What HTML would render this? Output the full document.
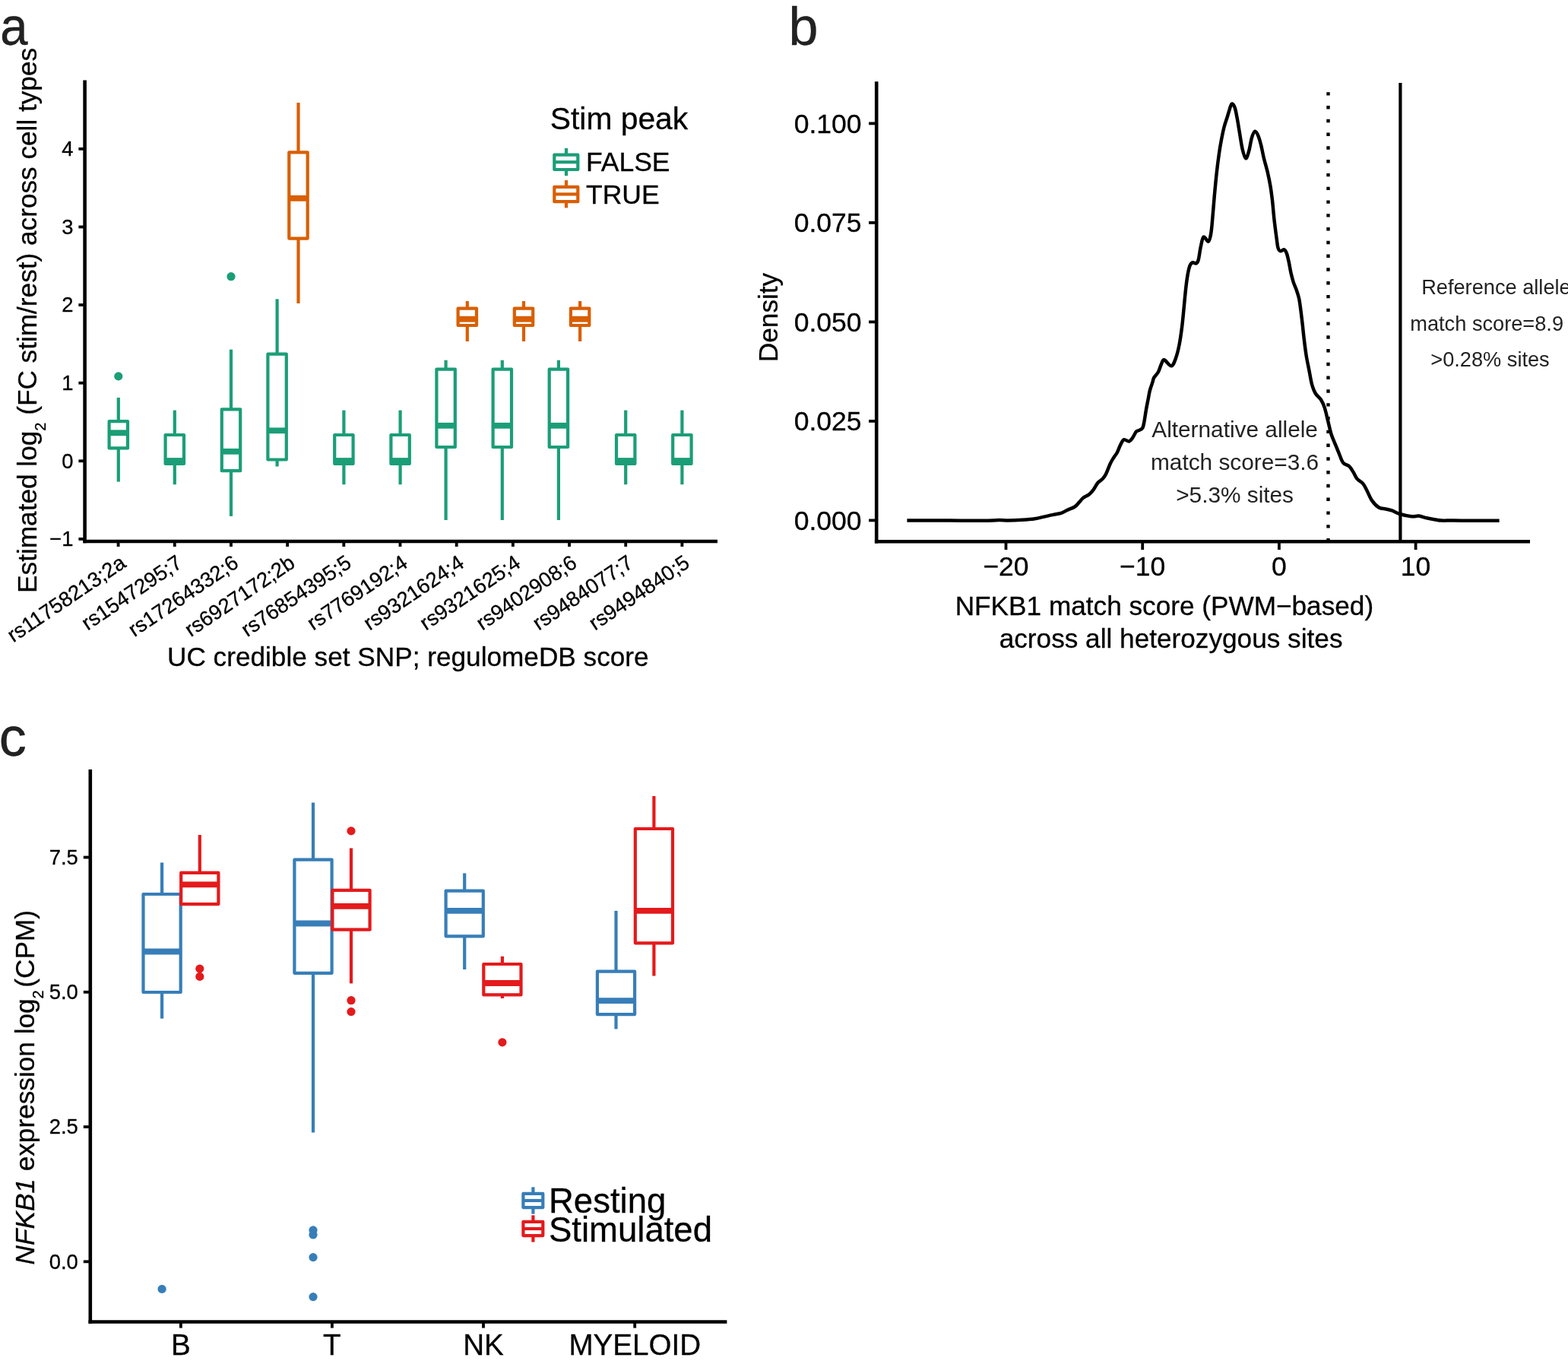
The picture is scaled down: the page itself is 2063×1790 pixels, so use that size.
<!DOCTYPE html>
<html><head><meta charset="utf-8"><title>Figure</title>
<style>html,body{margin:0;padding:0;background:#fff;}svg{display:block;}svg text{stroke:#000;stroke-width:0.3px;}</style>
</head><body>
<svg width="2063" height="1790" viewBox="0 0 2063 1790" font-family="'Liberation Sans', Arial, Helvetica, sans-serif" fill="#000">
<rect width="2063" height="1790" fill="#fff"/>
<text transform="translate(0.3,59) scale(0.92,1)" font-size="71" fill="#222">a</text>
<line x1="111.6" y1="105.6" x2="111.6" y2="714.3" stroke="#000" stroke-width="4.6"/>
<line x1="109.3" y1="712" x2="944" y2="712" stroke="#000" stroke-width="4.6"/>
<line x1="103.4" y1="708.92" x2="111.6" y2="708.92" stroke="#000" stroke-width="3.8"/>
<text x="96.5" y="718.35" font-size="27.4" text-anchor="end">−1</text>
<line x1="103.4" y1="606.3" x2="111.6" y2="606.3" stroke="#000" stroke-width="3.8"/>
<text x="96.5" y="615.73" font-size="27.4" text-anchor="end">0</text>
<line x1="103.4" y1="503.68" x2="111.6" y2="503.68" stroke="#000" stroke-width="3.8"/>
<text x="96.5" y="513.11" font-size="27.4" text-anchor="end">1</text>
<line x1="103.4" y1="401.06" x2="111.6" y2="401.06" stroke="#000" stroke-width="3.8"/>
<text x="96.5" y="410.49" font-size="27.4" text-anchor="end">2</text>
<line x1="103.4" y1="298.44" x2="111.6" y2="298.44" stroke="#000" stroke-width="3.8"/>
<text x="96.5" y="307.87" font-size="27.4" text-anchor="end">3</text>
<line x1="103.4" y1="195.82" x2="111.6" y2="195.82" stroke="#000" stroke-width="3.8"/>
<text x="96.5" y="205.25" font-size="27.4" text-anchor="end">4</text>
<line x1="155.6" y1="712" x2="155.6" y2="719" stroke="#000" stroke-width="3.8"/>
<text transform="translate(156.6,728.6) rotate(-34)" x="0" y="19.18" font-size="27.4" text-anchor="end">rs11758213;2a</text>
<line x1="229.78" y1="712" x2="229.78" y2="719" stroke="#000" stroke-width="3.8"/>
<text transform="translate(230.78,728.6) rotate(-34)" x="0" y="19.18" font-size="27.4" text-anchor="end">rs1547295;7</text>
<line x1="303.96" y1="712" x2="303.96" y2="719" stroke="#000" stroke-width="3.8"/>
<text transform="translate(304.96,728.6) rotate(-34)" x="0" y="19.18" font-size="27.4" text-anchor="end">rs17264332;6</text>
<line x1="378.14" y1="712" x2="378.14" y2="719" stroke="#000" stroke-width="3.8"/>
<text transform="translate(379.14,728.6) rotate(-34)" x="0" y="19.18" font-size="27.4" text-anchor="end">rs6927172;2b</text>
<line x1="452.32" y1="712" x2="452.32" y2="719" stroke="#000" stroke-width="3.8"/>
<text transform="translate(453.32,728.6) rotate(-34)" x="0" y="19.18" font-size="27.4" text-anchor="end">rs76854395;5</text>
<line x1="526.5" y1="712" x2="526.5" y2="719" stroke="#000" stroke-width="3.8"/>
<text transform="translate(527.5,728.6) rotate(-34)" x="0" y="19.18" font-size="27.4" text-anchor="end">rs7769192;4</text>
<line x1="600.68" y1="712" x2="600.68" y2="719" stroke="#000" stroke-width="3.8"/>
<text transform="translate(601.68,728.6) rotate(-34)" x="0" y="19.18" font-size="27.4" text-anchor="end">rs9321624;4</text>
<line x1="674.86" y1="712" x2="674.86" y2="719" stroke="#000" stroke-width="3.8"/>
<text transform="translate(675.86,728.6) rotate(-34)" x="0" y="19.18" font-size="27.4" text-anchor="end">rs9321625;4</text>
<line x1="749.04" y1="712" x2="749.04" y2="719" stroke="#000" stroke-width="3.8"/>
<text transform="translate(750.04,728.6) rotate(-34)" x="0" y="19.18" font-size="27.4" text-anchor="end">rs9402908;6</text>
<line x1="823.22" y1="712" x2="823.22" y2="719" stroke="#000" stroke-width="3.8"/>
<text transform="translate(824.22,728.6) rotate(-34)" x="0" y="19.18" font-size="27.4" text-anchor="end">rs9484077;7</text>
<line x1="897.4" y1="712" x2="897.4" y2="719" stroke="#000" stroke-width="3.8"/>
<text transform="translate(898.4,728.6) rotate(-34)" x="0" y="19.18" font-size="27.4" text-anchor="end">rs9494840;5</text>
<text transform="translate(48.2,421.4) rotate(-90)" x="0" y="0" font-size="35.2" text-anchor="middle">Estimated log<tspan font-size="20" dy="12">2</tspan><tspan dy="-12"> (FC stim/rest) across cell types</tspan></text>
<text x="220" y="876.3" font-size="35.2" text-anchor="start">UC credible set SNP; regulomeDB score</text>
<line x1="155.8" y1="523" x2="155.8" y2="554.2" stroke="#1B9E77" stroke-width="4.2"/>
<line x1="155.8" y1="589.4" x2="155.8" y2="633.6" stroke="#1B9E77" stroke-width="4.2"/>
<rect x="143.6" y="554.2" width="24.4" height="35.2" fill="none" stroke="#1B9E77" stroke-width="4.2" stroke-linejoin="round"/>
<line x1="143.6" y1="569.3" x2="168" y2="569.3" stroke="#1B9E77" stroke-width="7.8"/>
<circle cx="155.8" cy="494.9" r="5.6" fill="#1B9E77"/>
<line x1="229.8" y1="539.6" x2="229.8" y2="572" stroke="#1B9E77" stroke-width="4.2"/>
<line x1="229.8" y1="610" x2="229.8" y2="637.2" stroke="#1B9E77" stroke-width="4.2"/>
<rect x="217.6" y="572" width="24.4" height="38" fill="none" stroke="#1B9E77" stroke-width="4.2" stroke-linejoin="round"/>
<line x1="217.6" y1="606" x2="242" y2="606" stroke="#1B9E77" stroke-width="7.8"/>
<line x1="304" y1="459.7" x2="304" y2="538.3" stroke="#1B9E77" stroke-width="4.2"/>
<line x1="304" y1="619.2" x2="304" y2="678.9" stroke="#1B9E77" stroke-width="4.2"/>
<rect x="291.8" y="538.3" width="24.4" height="80.9" fill="none" stroke="#1B9E77" stroke-width="4.2" stroke-linejoin="round"/>
<line x1="291.8" y1="593.8" x2="316.2" y2="593.8" stroke="#1B9E77" stroke-width="7.8"/>
<circle cx="304" cy="363.7" r="5.6" fill="#1B9E77"/>
<line x1="364.6" y1="393.3" x2="364.6" y2="465.7" stroke="#1B9E77" stroke-width="4.2"/>
<line x1="364.6" y1="604.5" x2="364.6" y2="613.5" stroke="#1B9E77" stroke-width="4.2"/>
<rect x="352.4" y="465.7" width="24.4" height="138.8" fill="none" stroke="#1B9E77" stroke-width="4.2" stroke-linejoin="round"/>
<line x1="352.4" y1="566.3" x2="376.8" y2="566.3" stroke="#1B9E77" stroke-width="7.8"/>
<line x1="392.5" y1="135.1" x2="392.5" y2="200.4" stroke="#D95F02" stroke-width="4.2"/>
<line x1="392.5" y1="313.6" x2="392.5" y2="399" stroke="#D95F02" stroke-width="4.2"/>
<rect x="380.3" y="200.4" width="24.4" height="113.2" fill="none" stroke="#D95F02" stroke-width="4.2" stroke-linejoin="round"/>
<line x1="380.3" y1="260.8" x2="404.7" y2="260.8" stroke="#D95F02" stroke-width="7.8"/>
<line x1="452.4" y1="539.6" x2="452.4" y2="572" stroke="#1B9E77" stroke-width="4.2"/>
<line x1="452.4" y1="610" x2="452.4" y2="637.2" stroke="#1B9E77" stroke-width="4.2"/>
<rect x="440.2" y="572" width="24.4" height="38" fill="none" stroke="#1B9E77" stroke-width="4.2" stroke-linejoin="round"/>
<line x1="440.2" y1="606" x2="464.6" y2="606" stroke="#1B9E77" stroke-width="7.8"/>
<line x1="526.6" y1="539.6" x2="526.6" y2="572" stroke="#1B9E77" stroke-width="4.2"/>
<line x1="526.6" y1="610" x2="526.6" y2="637.2" stroke="#1B9E77" stroke-width="4.2"/>
<rect x="514.4" y="572" width="24.4" height="38" fill="none" stroke="#1B9E77" stroke-width="4.2" stroke-linejoin="round"/>
<line x1="514.4" y1="606" x2="538.8" y2="606" stroke="#1B9E77" stroke-width="7.8"/>
<line x1="586.6" y1="473.7" x2="586.6" y2="485.6" stroke="#1B9E77" stroke-width="4.2"/>
<line x1="586.6" y1="588" x2="586.6" y2="684" stroke="#1B9E77" stroke-width="4.2"/>
<rect x="574.4" y="485.6" width="24.4" height="102.4" fill="none" stroke="#1B9E77" stroke-width="4.2" stroke-linejoin="round"/>
<line x1="574.4" y1="559.8" x2="598.8" y2="559.8" stroke="#1B9E77" stroke-width="7.8"/>
<line x1="614.8" y1="396" x2="614.8" y2="405.6" stroke="#D95F02" stroke-width="4.2"/>
<line x1="614.8" y1="428" x2="614.8" y2="449" stroke="#D95F02" stroke-width="4.2"/>
<rect x="602.6" y="405.6" width="24.4" height="22.4" fill="none" stroke="#D95F02" stroke-width="4.2" stroke-linejoin="round"/>
<line x1="602.6" y1="419.7" x2="627" y2="419.7" stroke="#D95F02" stroke-width="7.8"/>
<line x1="660.8" y1="473.7" x2="660.8" y2="485.6" stroke="#1B9E77" stroke-width="4.2"/>
<line x1="660.8" y1="588" x2="660.8" y2="684" stroke="#1B9E77" stroke-width="4.2"/>
<rect x="648.6" y="485.6" width="24.4" height="102.4" fill="none" stroke="#1B9E77" stroke-width="4.2" stroke-linejoin="round"/>
<line x1="648.6" y1="559.8" x2="673" y2="559.8" stroke="#1B9E77" stroke-width="7.8"/>
<line x1="689" y1="396" x2="689" y2="405.6" stroke="#D95F02" stroke-width="4.2"/>
<line x1="689" y1="428" x2="689" y2="449" stroke="#D95F02" stroke-width="4.2"/>
<rect x="676.8" y="405.6" width="24.4" height="22.4" fill="none" stroke="#D95F02" stroke-width="4.2" stroke-linejoin="round"/>
<line x1="676.8" y1="419.7" x2="701.2" y2="419.7" stroke="#D95F02" stroke-width="7.8"/>
<line x1="734.9" y1="473.7" x2="734.9" y2="485.6" stroke="#1B9E77" stroke-width="4.2"/>
<line x1="734.9" y1="588" x2="734.9" y2="684" stroke="#1B9E77" stroke-width="4.2"/>
<rect x="722.7" y="485.6" width="24.4" height="102.4" fill="none" stroke="#1B9E77" stroke-width="4.2" stroke-linejoin="round"/>
<line x1="722.7" y1="559.8" x2="747.1" y2="559.8" stroke="#1B9E77" stroke-width="7.8"/>
<line x1="763.1" y1="396" x2="763.1" y2="405.6" stroke="#D95F02" stroke-width="4.2"/>
<line x1="763.1" y1="428" x2="763.1" y2="449" stroke="#D95F02" stroke-width="4.2"/>
<rect x="750.9" y="405.6" width="24.4" height="22.4" fill="none" stroke="#D95F02" stroke-width="4.2" stroke-linejoin="round"/>
<line x1="750.9" y1="419.7" x2="775.3" y2="419.7" stroke="#D95F02" stroke-width="7.8"/>
<line x1="823.2" y1="539.6" x2="823.2" y2="572" stroke="#1B9E77" stroke-width="4.2"/>
<line x1="823.2" y1="610" x2="823.2" y2="637.2" stroke="#1B9E77" stroke-width="4.2"/>
<rect x="811" y="572" width="24.4" height="38" fill="none" stroke="#1B9E77" stroke-width="4.2" stroke-linejoin="round"/>
<line x1="811" y1="606" x2="835.4" y2="606" stroke="#1B9E77" stroke-width="7.8"/>
<line x1="897.4" y1="539.6" x2="897.4" y2="572" stroke="#1B9E77" stroke-width="4.2"/>
<line x1="897.4" y1="610" x2="897.4" y2="637.2" stroke="#1B9E77" stroke-width="4.2"/>
<rect x="885.2" y="572" width="24.4" height="38" fill="none" stroke="#1B9E77" stroke-width="4.2" stroke-linejoin="round"/>
<line x1="885.2" y1="606" x2="909.6" y2="606" stroke="#1B9E77" stroke-width="7.8"/>
<text x="723.8" y="170.2" font-size="40.8" text-anchor="start">Stim peak</text>
<line x1="745" y1="194.9" x2="745" y2="231.2" stroke="#1B9E77" stroke-width="4.2"/>
<rect x="729.3" y="203.6" width="31" height="19.4" fill="#fff" stroke="#1B9E77" stroke-width="4.2" stroke-linejoin="round"/>
<line x1="729.1" y1="213.2" x2="760.9" y2="213.2" stroke="#1B9E77" stroke-width="4.2"/>
<text x="771" y="225.4" font-size="35.5" text-anchor="start">FALSE</text>
<line x1="745" y1="237.1" x2="745" y2="273.4" stroke="#D95F02" stroke-width="4.2"/>
<rect x="729.3" y="245.8" width="31" height="19.4" fill="#fff" stroke="#D95F02" stroke-width="4.2" stroke-linejoin="round"/>
<line x1="729.1" y1="255.4" x2="760.9" y2="255.4" stroke="#D95F02" stroke-width="4.2"/>
<text x="771" y="267.6" font-size="35.5" text-anchor="start">TRUE</text>
<text x="1037.4" y="59.1" font-size="70" text-anchor="start" fill="#222">b</text>
<line x1="1153.2" y1="107.3" x2="1153.2" y2="714.5" stroke="#000" stroke-width="4.6"/>
<line x1="1150.9" y1="712.2" x2="2013" y2="712.2" stroke="#000" stroke-width="4.6"/>
<line x1="1143.1" y1="684.4" x2="1153.2" y2="684.4" stroke="#000" stroke-width="3.8"/>
<text x="1133.5" y="696.61" font-size="35.5" text-anchor="end">0.000</text>
<line x1="1143.1" y1="553.9" x2="1153.2" y2="553.9" stroke="#000" stroke-width="3.8"/>
<text x="1133.5" y="566.11" font-size="35.5" text-anchor="end">0.025</text>
<line x1="1143.1" y1="423.4" x2="1153.2" y2="423.4" stroke="#000" stroke-width="3.8"/>
<text x="1133.5" y="435.61" font-size="35.5" text-anchor="end">0.050</text>
<line x1="1143.1" y1="292.9" x2="1153.2" y2="292.9" stroke="#000" stroke-width="3.8"/>
<text x="1133.5" y="305.11" font-size="35.5" text-anchor="end">0.075</text>
<line x1="1143.1" y1="162.4" x2="1153.2" y2="162.4" stroke="#000" stroke-width="3.8"/>
<text x="1133.5" y="174.61" font-size="35.5" text-anchor="end">0.100</text>
<line x1="1323.5" y1="712.2" x2="1323.5" y2="723.1" stroke="#000" stroke-width="3.8"/>
<text x="1323.5" y="757.3" font-size="35.5" text-anchor="middle">−20</text>
<line x1="1503.2" y1="712.2" x2="1503.2" y2="723.1" stroke="#000" stroke-width="3.8"/>
<text x="1503.2" y="757.3" font-size="35.5" text-anchor="middle">−10</text>
<line x1="1682.9" y1="712.2" x2="1682.9" y2="723.1" stroke="#000" stroke-width="3.8"/>
<text x="1682.9" y="757.3" font-size="35.5" text-anchor="middle">0</text>
<line x1="1862.6" y1="712.2" x2="1862.6" y2="723.1" stroke="#000" stroke-width="3.8"/>
<text x="1862.6" y="757.3" font-size="35.5" text-anchor="middle">10</text>
<text transform="translate(1022.6,417.5) rotate(-90)" x="0" y="0" font-size="35.2" text-anchor="middle">Density</text>
<text x="1256.7" y="808.7" font-size="35.2" text-anchor="start">NFKB1 match score (PWM−based)</text>
<text x="1314.7" y="852.3" font-size="35.2" text-anchor="start">across all heterozygous sites</text>
<line x1="1842.4" y1="108.9" x2="1842.4" y2="712.2" stroke="#000" stroke-width="4.2"/>
<path d="M1745.3 121.2h4.4v4.4h-4.4z M1745.3 138.98h4.4v4.4h-4.4z M1745.3 156.76h4.4v4.4h-4.4z M1745.3 174.54h4.4v4.4h-4.4z M1745.3 192.32h4.4v4.4h-4.4z M1745.3 210.1h4.4v4.4h-4.4z M1745.3 227.88h4.4v4.4h-4.4z M1745.3 245.66h4.4v4.4h-4.4z M1745.3 263.44h4.4v4.4h-4.4z M1745.3 281.22h4.4v4.4h-4.4z M1745.3 299h4.4v4.4h-4.4z M1745.3 316.78h4.4v4.4h-4.4z M1745.3 334.56h4.4v4.4h-4.4z M1745.3 352.34h4.4v4.4h-4.4z M1745.3 370.12h4.4v4.4h-4.4z M1745.3 387.9h4.4v4.4h-4.4z M1745.3 405.68h4.4v4.4h-4.4z M1745.3 423.46h4.4v4.4h-4.4z M1745.3 441.24h4.4v4.4h-4.4z M1745.3 459.02h4.4v4.4h-4.4z M1745.3 476.8h4.4v4.4h-4.4z M1745.3 494.58h4.4v4.4h-4.4z M1745.3 512.36h4.4v4.4h-4.4z M1745.3 530.14h4.4v4.4h-4.4z M1745.3 547.92h4.4v4.4h-4.4z M1745.3 565.7h4.4v4.4h-4.4z M1745.3 583.48h4.4v4.4h-4.4z M1745.3 601.26h4.4v4.4h-4.4z M1745.3 619.04h4.4v4.4h-4.4z M1745.3 636.82h4.4v4.4h-4.4z M1745.3 654.6h4.4v4.4h-4.4z M1745.3 672.38h4.4v4.4h-4.4z M1745.3 690.16h4.4v4.4h-4.4z M1745.3 707.94h4.4v4.4h-4.4z" fill="#000"/>
<path d="M1193.4 684.6 C1202.83 684.6 1232.23 684.57 1250 684.6 C1267.77 684.63 1289.25 684.88 1300 684.8 C1310.75 684.72 1310.03 684.13 1314.5 684.1 C1318.97 684.07 1321.77 684.65 1326.8 684.6 C1331.83 684.55 1338.92 684.2 1344.7 683.8 C1350.48 683.4 1356.85 682.85 1361.5 682.2 C1366.15 681.55 1368.7 680.75 1372.6 679.9 C1376.5 679.05 1380.98 677.93 1384.9 677.1 C1388.82 676.27 1392.93 675.92 1396.1 674.9 C1399.27 673.88 1400.92 672.4 1403.9 671 C1406.88 669.6 1411.38 668.18 1414 666.5 C1416.62 664.82 1417.73 662.85 1419.6 660.9 C1421.47 658.95 1422.97 656.57 1425.2 654.8 C1427.43 653.03 1430.77 652.07 1433 650.3 C1435.23 648.53 1436.73 646.72 1438.6 644.2 C1440.47 641.68 1442.15 637.63 1444.2 635.2 C1446.25 632.77 1449.05 631.65 1450.9 629.6 C1452.75 627.55 1453.63 626.25 1455.3 622.9 C1456.97 619.55 1459.22 613.03 1460.9 609.5 C1462.58 605.97 1463.9 604.12 1465.4 601.7 C1466.9 599.28 1468.42 597.8 1469.9 595 C1471.38 592.2 1472.82 587.7 1474.3 584.9 C1475.78 582.1 1476.93 578.93 1478.8 578.2 C1480.67 577.47 1483.63 580.87 1485.5 580.5 C1487.37 580.13 1488.42 578.15 1490 576 C1491.58 573.85 1493.52 569.28 1495 567.6 C1496.48 565.92 1497.5 566.73 1498.9 565.9 C1500.3 565.07 1502.28 564.65 1503.4 562.6 C1504.52 560.55 1504.85 557.52 1505.6 553.6 C1506.35 549.68 1507.05 543.93 1507.9 539.1 C1508.75 534.27 1509.87 528.88 1510.7 524.6 C1511.53 520.32 1511.98 516.93 1512.9 513.4 C1513.82 509.87 1515.3 506.18 1516.2 503.4 C1517.1 500.62 1517.02 499.05 1518.3 496.7 C1519.58 494.35 1522.25 492.38 1523.9 489.3 C1525.55 486.22 1526.88 480.87 1528.2 478.2 C1529.52 475.53 1529.65 472.78 1531.8 473.3 C1533.95 473.82 1538.63 481.5 1541.1 481.3 C1543.57 481.1 1544.87 476.72 1546.6 472.1 C1548.33 467.48 1550.07 460.77 1551.5 453.6 C1552.93 446.43 1554.17 437.28 1555.2 429.1 C1556.23 420.92 1556.88 412.7 1557.7 404.5 C1558.52 396.3 1559.28 387.07 1560.1 379.9 C1560.92 372.73 1561.68 366.62 1562.6 361.5 C1563.52 356.38 1564.48 351.92 1565.6 349.2 C1566.72 346.48 1567.97 345.65 1569.3 345.2 C1570.63 344.75 1572.37 347.07 1573.6 346.5 C1574.83 345.93 1575.67 345.45 1576.7 341.8 C1577.73 338.15 1578.67 329.62 1579.8 324.6 C1580.93 319.58 1581.83 312.85 1583.5 311.7 C1585.17 310.55 1588.23 318.15 1589.8 317.7 C1591.37 317.25 1592.08 312.88 1592.9 309 C1593.72 305.12 1593.88 302.98 1594.7 294.4 C1595.52 285.82 1596.78 268.77 1597.8 257.5 C1598.82 246.23 1599.78 236.02 1600.8 226.8 C1601.82 217.58 1602.87 209.38 1603.9 202.2 C1604.93 195.02 1605.87 189.65 1607 183.7 C1608.13 177.75 1609.37 171.62 1610.7 166.5 C1612.03 161.38 1613.67 157.3 1615 153 C1616.33 148.7 1617.68 143.47 1618.7 140.7 C1619.72 137.93 1620.08 136.18 1621.1 136.4 C1622.12 136.62 1623.67 138.62 1624.8 142 C1625.93 145.38 1626.87 151.18 1627.9 156.7 C1628.93 162.22 1629.88 168.55 1631 175.1 C1632.12 181.65 1633.27 190.47 1634.6 196 C1635.93 201.53 1637.57 207.88 1639 208.3 C1640.43 208.72 1641.88 203 1643.2 198.5 C1644.52 194 1645.57 185.6 1646.9 181.3 C1648.23 177 1649.77 173.12 1651.2 172.7 C1652.63 172.28 1654.17 175.73 1655.5 178.8 C1656.83 181.87 1657.97 186.18 1659.2 191.1 C1660.43 196.02 1661.47 202.35 1662.9 208.3 C1664.33 214.25 1666.37 220.65 1667.8 226.8 C1669.23 232.95 1670.47 239.07 1671.5 245.2 C1672.53 251.33 1673.18 256.43 1674 263.6 C1674.82 270.77 1675.48 280 1676.4 288.2 C1677.32 296.4 1678.65 306.5 1679.5 312.8 C1680.35 319.1 1680.67 323.1 1681.5 326 C1682.33 328.9 1683.15 329.8 1684.5 330.2 C1685.85 330.6 1688.2 327.87 1689.6 328.4 C1691 328.93 1691.88 330.7 1692.9 333.4 C1693.92 336.1 1694.77 340.32 1695.7 344.6 C1696.63 348.88 1697.48 354.63 1698.5 359.1 C1699.52 363.57 1700.58 367.67 1701.8 371.4 C1703.02 375.13 1704.58 377.97 1705.8 381.5 C1707.02 385.03 1708.18 388.32 1709.1 392.6 C1710.02 396.88 1710.55 401.62 1711.3 407.2 C1712.05 412.78 1712.85 419.58 1713.6 426.1 C1714.35 432.62 1714.97 439.4 1715.8 446.3 C1716.63 453.2 1717.48 460.62 1718.6 467.5 C1719.72 474.38 1721.28 481.35 1722.5 487.6 C1723.72 493.85 1724.57 500.1 1725.9 505 C1727.23 509.9 1728.43 513.47 1730.5 517 C1732.57 520.53 1736.23 522.93 1738.3 526.2 C1740.37 529.47 1741.37 531.8 1742.9 536.6 C1744.43 541.4 1746.08 549.32 1747.5 555 C1748.92 560.68 1749.88 565.9 1751.4 570.7 C1752.92 575.5 1754.85 579.45 1756.6 583.8 C1758.35 588.15 1760.15 592.67 1761.9 596.8 C1763.65 600.93 1764.92 605.87 1767.1 608.6 C1769.28 611.33 1772.82 611.23 1775 613.2 C1777.18 615.17 1778.47 617.67 1780.2 620.4 C1781.93 623.13 1783.22 626.98 1785.4 629.6 C1787.58 632.22 1791.12 633.48 1793.3 636.1 C1795.48 638.72 1796.53 641.58 1798.5 645.3 C1800.47 649.02 1802.48 654.7 1805.1 658.4 C1807.72 662.1 1811.15 665.65 1814.2 667.5 C1817.25 669.35 1820.57 668.85 1823.4 669.5 C1826.23 670.15 1828.15 670.32 1831.2 671.4 C1834.25 672.48 1837.33 674.68 1841.7 676 C1846.07 677.32 1853.25 678.87 1857.4 679.3 C1861.55 679.73 1863.33 678.27 1866.6 678.6 C1869.87 678.93 1873.52 680.53 1877 681.3 C1880.48 682.07 1884.22 682.65 1887.5 683.2 C1890.78 683.75 1892.98 684.38 1896.7 684.6 C1900.42 684.82 1905.43 684.48 1909.8 684.5 C1914.17 684.52 1912.43 684.67 1922.9 684.7 C1933.37 684.73 1964.32 684.7 1972.6 684.7" fill="none" stroke="#000" stroke-width="4.5" stroke-linejoin="round"/>
<text x="1624.6" y="575.1" font-size="29.8" text-anchor="middle" fill="#222" style="stroke:none">Alternative allele</text>
<text x="1624.6" y="618" font-size="29.8" text-anchor="middle" fill="#222" style="stroke:none">match score=3.6</text>
<text x="1624.6" y="660.9" font-size="29.8" text-anchor="middle" fill="#222" style="stroke:none">&gt;5.3% sites</text>
<text x="1870.2" y="387.3" font-size="27.2" text-anchor="start" fill="#222" style="stroke:none">Reference allele</text>
<text x="1855.3" y="434.7" font-size="27.2" text-anchor="start" fill="#222" style="stroke:none">match score=8.9</text>
<text x="1882.3" y="481.6" font-size="27.2" text-anchor="start" fill="#222" style="stroke:none">&gt;0.28% sites</text>
<text x="-1.2" y="993.6" font-size="72" text-anchor="start" fill="#222">c</text>
<line x1="118.8" y1="1012" x2="118.8" y2="1740.8" stroke="#000" stroke-width="4.6"/>
<line x1="116.5" y1="1738.5" x2="956.4" y2="1738.5" stroke="#000" stroke-width="4.6"/>
<line x1="109.8" y1="1659.3" x2="118.8" y2="1659.3" stroke="#000" stroke-width="3.8"/>
<text x="102.8" y="1668.73" font-size="27.4" text-anchor="end">0.0</text>
<line x1="109.8" y1="1482.05" x2="118.8" y2="1482.05" stroke="#000" stroke-width="3.8"/>
<text x="102.8" y="1491.48" font-size="27.4" text-anchor="end">2.5</text>
<line x1="109.8" y1="1304.8" x2="118.8" y2="1304.8" stroke="#000" stroke-width="3.8"/>
<text x="102.8" y="1314.23" font-size="27.4" text-anchor="end">5.0</text>
<line x1="109.8" y1="1127.55" x2="118.8" y2="1127.55" stroke="#000" stroke-width="3.8"/>
<text x="102.8" y="1136.98" font-size="27.4" text-anchor="end">7.5</text>
<line x1="237.9" y1="1738.5" x2="237.9" y2="1746.6" stroke="#000" stroke-width="3.8"/>
<text x="237.9" y="1781.9" font-size="38.6" text-anchor="middle">B</text>
<line x1="436.9" y1="1738.5" x2="436.9" y2="1746.6" stroke="#000" stroke-width="3.8"/>
<text x="436.9" y="1781.9" font-size="38.6" text-anchor="middle">T</text>
<line x1="636" y1="1738.5" x2="636" y2="1746.6" stroke="#000" stroke-width="3.8"/>
<text x="636" y="1781.9" font-size="38.6" text-anchor="middle">NK</text>
<line x1="835.2" y1="1738.5" x2="835.2" y2="1746.6" stroke="#000" stroke-width="3.8"/>
<text x="835.2" y="1781.9" font-size="38.6" text-anchor="middle">MYELOID</text>
<text transform="translate(44.6,1430.3) rotate(-90)" x="0" y="0" font-size="35.2" text-anchor="middle"><tspan font-style="italic">NFKB1</tspan> expression log<tspan font-size="20" dy="12">2</tspan><tspan dy="-12" dx="3.5">(CPM)</tspan></text>
<line x1="213.1" y1="1134.5" x2="213.1" y2="1176" stroke="#377EB8" stroke-width="4.2"/>
<line x1="213.1" y1="1305" x2="213.1" y2="1339.6" stroke="#377EB8" stroke-width="4.2"/>
<rect x="188.5" y="1176" width="49.2" height="129" fill="none" stroke="#377EB8" stroke-width="4.2" stroke-linejoin="round"/>
<line x1="188.5" y1="1251.5" x2="237.7" y2="1251.5" stroke="#377EB8" stroke-width="7.8"/>
<circle cx="213.1" cy="1695.4" r="5.6" fill="#377EB8"/>
<line x1="262.8" y1="1098.1" x2="262.8" y2="1147.9" stroke="#E41A1C" stroke-width="4.2"/>
<rect x="238.2" y="1147.9" width="49.2" height="41.2" fill="none" stroke="#E41A1C" stroke-width="4.2" stroke-linejoin="round"/>
<line x1="238.2" y1="1163.3" x2="287.4" y2="1163.3" stroke="#E41A1C" stroke-width="7.8"/>
<circle cx="262.8" cy="1274.1" r="5.6" fill="#E41A1C"/>
<circle cx="262.8" cy="1284.4" r="5.6" fill="#E41A1C"/>
<line x1="412" y1="1055.6" x2="412" y2="1130.7" stroke="#377EB8" stroke-width="4.2"/>
<line x1="412" y1="1279.8" x2="412" y2="1489.5" stroke="#377EB8" stroke-width="4.2"/>
<rect x="387.4" y="1130.7" width="49.2" height="149.1" fill="none" stroke="#377EB8" stroke-width="4.2" stroke-linejoin="round"/>
<line x1="387.4" y1="1214.5" x2="436.6" y2="1214.5" stroke="#377EB8" stroke-width="7.8"/>
<circle cx="412" cy="1617.9" r="5.6" fill="#377EB8"/>
<circle cx="412" cy="1624" r="5.6" fill="#377EB8"/>
<circle cx="412" cy="1653.6" r="5.6" fill="#377EB8"/>
<circle cx="412" cy="1705.6" r="5.6" fill="#377EB8"/>
<line x1="462" y1="1115.5" x2="462" y2="1170.8" stroke="#E41A1C" stroke-width="4.2"/>
<line x1="462" y1="1222.7" x2="462" y2="1293.4" stroke="#E41A1C" stroke-width="4.2"/>
<rect x="437.4" y="1170.8" width="49.2" height="51.9" fill="none" stroke="#E41A1C" stroke-width="4.2" stroke-linejoin="round"/>
<line x1="437.4" y1="1191.9" x2="486.6" y2="1191.9" stroke="#E41A1C" stroke-width="7.8"/>
<circle cx="462" cy="1092.9" r="5.6" fill="#E41A1C"/>
<circle cx="462" cy="1315.7" r="5.6" fill="#E41A1C"/>
<circle cx="462" cy="1330.6" r="5.6" fill="#E41A1C"/>
<line x1="611.2" y1="1148.5" x2="611.2" y2="1171.7" stroke="#377EB8" stroke-width="4.2"/>
<line x1="611.2" y1="1231.3" x2="611.2" y2="1275" stroke="#377EB8" stroke-width="4.2"/>
<rect x="586.6" y="1171.7" width="49.2" height="59.6" fill="none" stroke="#377EB8" stroke-width="4.2" stroke-linejoin="round"/>
<line x1="586.6" y1="1197.9" x2="635.8" y2="1197.9" stroke="#377EB8" stroke-width="7.8"/>
<line x1="660.9" y1="1257.8" x2="660.9" y2="1268" stroke="#E41A1C" stroke-width="4.2"/>
<line x1="660.9" y1="1308.4" x2="660.9" y2="1313" stroke="#E41A1C" stroke-width="4.2"/>
<rect x="636.3" y="1268" width="49.2" height="40.4" fill="none" stroke="#E41A1C" stroke-width="4.2" stroke-linejoin="round"/>
<line x1="636.3" y1="1293" x2="685.5" y2="1293" stroke="#E41A1C" stroke-width="7.8"/>
<circle cx="660.9" cy="1370.9" r="5.6" fill="#E41A1C"/>
<line x1="810.5" y1="1197.9" x2="810.5" y2="1277.6" stroke="#377EB8" stroke-width="4.2"/>
<line x1="810.5" y1="1334.1" x2="810.5" y2="1353.4" stroke="#377EB8" stroke-width="4.2"/>
<rect x="785.9" y="1277.6" width="49.2" height="56.5" fill="none" stroke="#377EB8" stroke-width="4.2" stroke-linejoin="round"/>
<line x1="785.9" y1="1316.1" x2="835.1" y2="1316.1" stroke="#377EB8" stroke-width="7.8"/>
<line x1="860.4" y1="1047" x2="860.4" y2="1090" stroke="#E41A1C" stroke-width="4.2"/>
<line x1="860.4" y1="1240.3" x2="860.4" y2="1283.5" stroke="#E41A1C" stroke-width="4.2"/>
<rect x="835.8" y="1090" width="49.2" height="150.3" fill="none" stroke="#E41A1C" stroke-width="4.2" stroke-linejoin="round"/>
<line x1="835.8" y1="1197.9" x2="885" y2="1197.9" stroke="#E41A1C" stroke-width="7.8"/>
<line x1="701.4" y1="1561.3" x2="701.4" y2="1596.6" stroke="#377EB8" stroke-width="4.2"/>
<rect x="688.4" y="1569.9" width="25.9" height="18.2" fill="#fff" stroke="#377EB8" stroke-width="4.2" stroke-linejoin="round"/>
<line x1="688.4" y1="1579" x2="714.3" y2="1579" stroke="#377EB8" stroke-width="4.2"/>
<text x="722" y="1594.8" font-size="45.5" text-anchor="start">Resting</text>
<line x1="701.4" y1="1598.3" x2="701.4" y2="1633.6" stroke="#E41A1C" stroke-width="4.2"/>
<rect x="688.4" y="1606.9" width="25.9" height="18.2" fill="#fff" stroke="#E41A1C" stroke-width="4.2" stroke-linejoin="round"/>
<line x1="688.4" y1="1616" x2="714.3" y2="1616" stroke="#E41A1C" stroke-width="4.2"/>
<text x="722" y="1632.54" font-size="45.5" text-anchor="start">Stimulated</text>
</svg>
</body></html>
